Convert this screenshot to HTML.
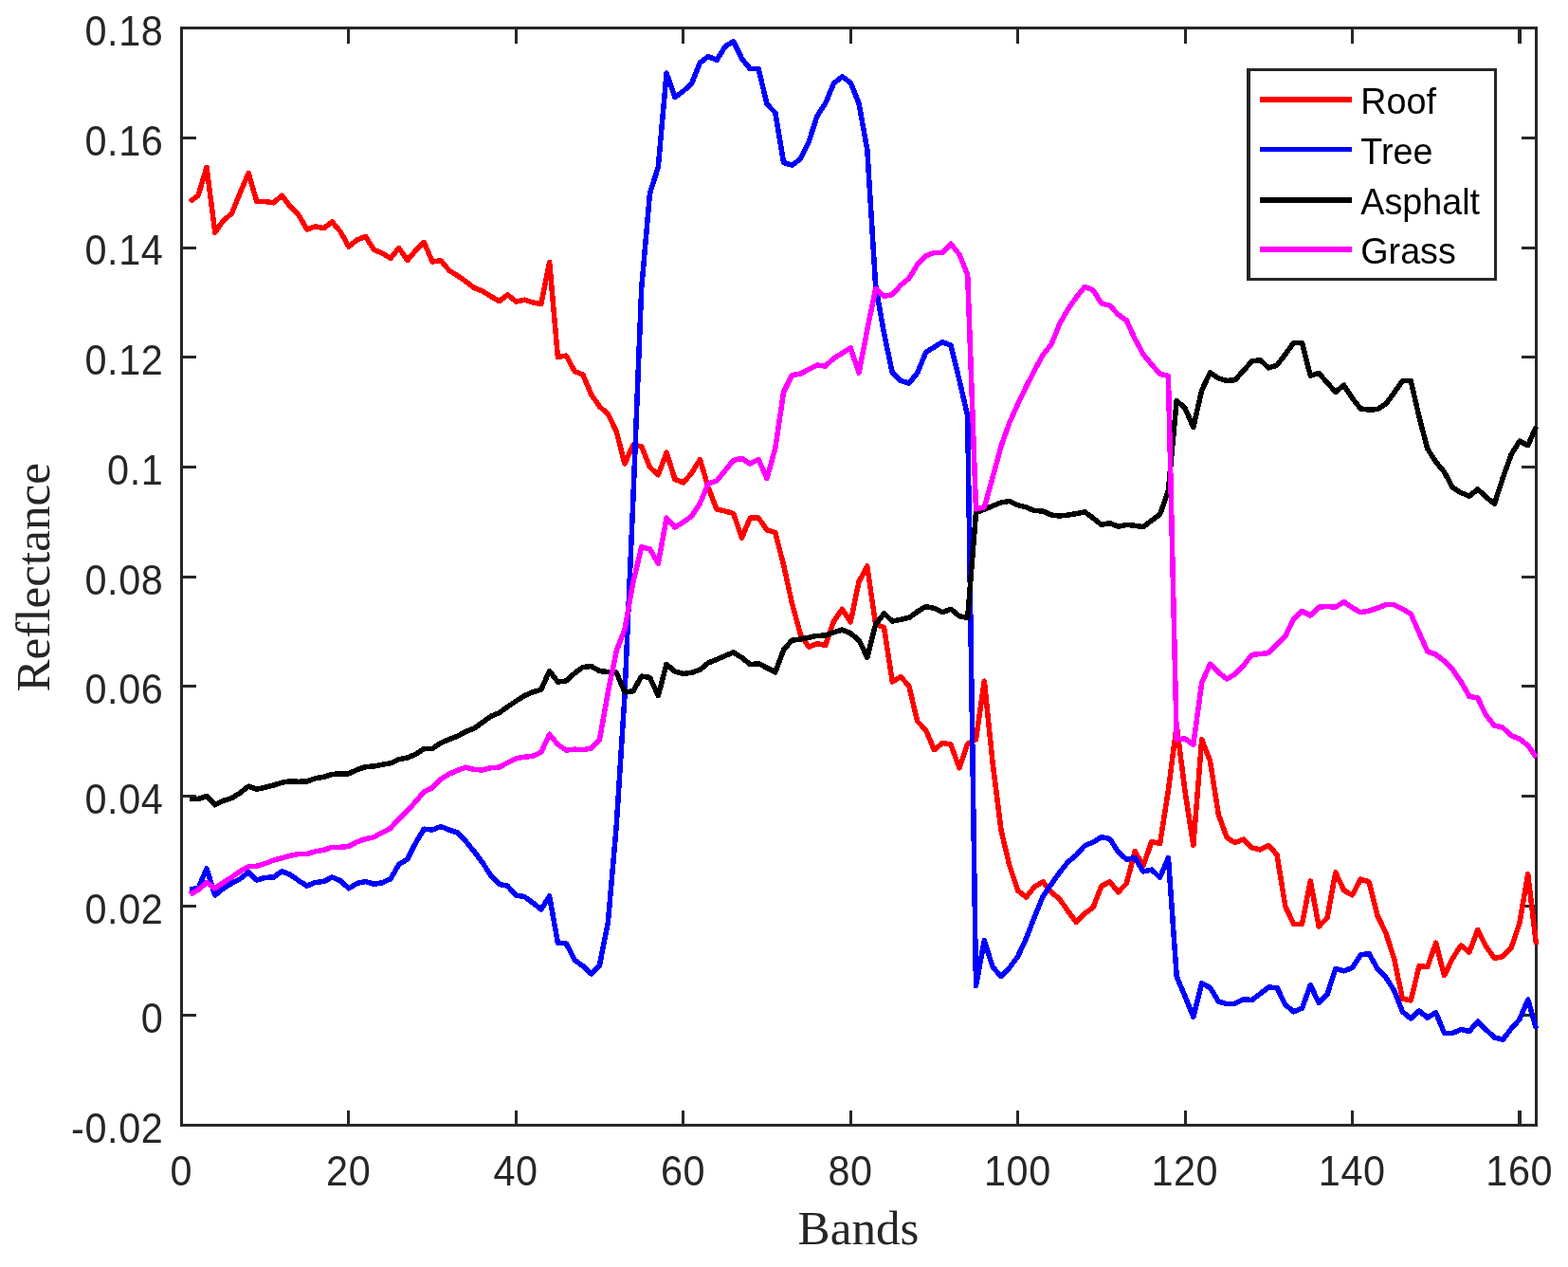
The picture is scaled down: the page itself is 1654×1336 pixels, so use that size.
<!DOCTYPE html>
<html lang="en">
<head>
<meta charset="utf-8">
<title>Reflectance vs Bands</title>
<style>
html,body{margin:0;padding:0;background:#fff;}
body{width:1654px;height:1336px;overflow:hidden;}
svg{display:block;}
.ax{fill:#262626;shape-rendering:crispEdges;}
.tick{font-family:"Liberation Sans",Arial,Helvetica,sans-serif;font-size:41.4px;letter-spacing:0.6px;fill:#262626;}
.leg{font-family:"Liberation Sans",Arial,Helvetica,sans-serif;font-size:37.7px;fill:#000;}
.lab{font-family:"Liberation Serif","Times New Roman",Times,serif;font-size:51.2px;fill:#262626;}
.c{fill:none;stroke-width:5.5;stroke-linejoin:round;stroke-linecap:butt;shape-rendering:crispEdges;}
.ls{shape-rendering:crispEdges;}
</style>
</head>
<body>
<svg width="1654" height="1336" viewBox="0 0 1654 1336">
<rect x="0" y="0" width="1654" height="1336" fill="#ffffff"/>
<g class="ax">
<rect x="190" y="28" width="1432" height="3"/>
<rect x="190" y="1185" width="1432" height="3"/>
<rect x="190" y="28" width="3" height="1160"/>
<rect x="1619" y="28" width="3" height="1160"/>
<rect x="366" y="1171" width="3" height="15"/><rect x="366" y="30" width="3" height="16"/>
<rect x="543" y="1171" width="3" height="15"/><rect x="543" y="30" width="3" height="16"/>
<rect x="719" y="1171" width="3" height="15"/><rect x="719" y="30" width="3" height="16"/>
<rect x="896" y="1171" width="3" height="15"/><rect x="896" y="30" width="3" height="16"/>
<rect x="1072" y="1171" width="3" height="15"/><rect x="1072" y="30" width="3" height="16"/>
<rect x="1249" y="1171" width="3" height="15"/><rect x="1249" y="30" width="3" height="16"/>
<rect x="1425" y="1171" width="3" height="15"/><rect x="1425" y="30" width="3" height="16"/>
<rect x="1601" y="1171" width="4" height="15"/><rect x="1601" y="30" width="4" height="16"/>
<rect x="192" y="144" width="15" height="3"/><rect x="1605" y="144" width="15" height="3"/>
<rect x="192" y="260" width="15" height="3"/><rect x="1605" y="260" width="15" height="3"/>
<rect x="192" y="375" width="15" height="3"/><rect x="1605" y="375" width="15" height="3"/>
<rect x="192" y="491" width="15" height="3"/><rect x="1605" y="491" width="15" height="3"/>
<rect x="192" y="607" width="15" height="3"/><rect x="1605" y="607" width="15" height="3"/>
<rect x="192" y="722" width="15" height="3"/><rect x="1605" y="722" width="15" height="3"/>
<rect x="192" y="838" width="15" height="3"/><rect x="1605" y="838" width="15" height="3"/>
<rect x="192" y="954" width="15" height="3"/><rect x="1605" y="954" width="15" height="3"/>
<rect x="192" y="1069" width="15" height="3"/><rect x="1605" y="1069" width="15" height="3"/>
</g>
<path class="c" stroke="#ff0000" d="M200.3 212.6 L209.1 206.2 L218.0 176.3 L226.8 245.2 L235.6 232.5 L244.4 225.2 L253.2 203.5 L262.1 182.6 L270.9 212.6 L279.7 212.6 L288.5 213.8 L297.4 206.2 L306.2 218.0 L315.0 226.7 L323.8 241.9 L332.6 238.8 L341.5 240.7 L350.3 233.9 L359.1 244.3 L367.9 260.1 L376.7 252.8 L385.6 249.4 L394.4 263.3 L403.2 267.0 L412.0 272.4 L420.8 261.5 L429.7 274.6 L438.5 264.2 L447.3 255.5 L456.1 276.0 L465.0 274.8 L473.8 285.1 L482.6 290.8 L491.4 296.8 L500.2 303.5 L509.1 307.1 L517.9 312.6 L526.7 317.6 L535.5 310.8 L544.3 318.0 L553.2 316.2 L562.0 318.9 L570.8 320.7 L579.6 276.3 L588.4 376.4 L597.3 375.1 L606.1 391.5 L614.9 395.1 L623.7 416.0 L632.5 428.7 L641.4 436.8 L650.2 455.0 L659.0 489.0 L667.8 469.0 L676.7 470.8 L685.5 492.6 L694.3 500.8 L703.1 477.2 L711.9 505.3 L720.8 508.9 L729.6 498.9 L738.4 484.4 L747.2 514.4 L756.0 537.0 L764.9 538.9 L773.7 541.6 L782.5 567.0 L791.3 546.1 L800.1 546.1 L809.0 558.8 L817.8 561.5 L826.6 596.0 L835.4 635.9 L844.3 668.6 L853.1 682.2 L861.9 678.6 L870.7 680.4 L879.5 655.0 L888.4 642.3 L897.2 655.9 L906.0 613.3 L914.8 597.0 L923.6 658.6 L932.5 661.4 L941.3 719.0 L950.1 713.6 L958.9 723.6 L967.7 760.7 L976.6 769.8 L985.4 790.7 L994.2 783.4 L1003.0 785.2 L1011.9 809.7 L1020.7 784.3 L1029.5 779.8 L1038.3 718.1 L1047.1 804.3 L1056.0 875.4 L1064.8 912.6 L1073.6 938.9 L1082.4 946.1 L1091.2 935.3 L1100.1 929.8 L1108.9 940.7 L1117.7 948.0 L1126.5 960.7 L1135.3 972.5 L1144.2 963.4 L1153.0 957.0 L1161.8 934.4 L1170.6 929.8 L1179.5 940.7 L1188.3 931.6 L1197.1 897.7 L1205.9 913.1 L1214.7 887.7 L1223.6 889.5 L1232.4 833.3 L1241.2 764.5 L1250.0 834.2 L1258.8 891.3 L1267.7 779.8 L1276.5 802.5 L1285.3 858.7 L1294.1 883.2 L1302.9 888.6 L1311.8 885.0 L1320.6 894.0 L1329.4 895.9 L1338.2 891.3 L1347.0 901.3 L1355.9 956.1 L1364.7 974.3 L1373.5 974.3 L1382.3 928.9 L1391.2 977.0 L1400.0 967.9 L1408.8 919.9 L1417.6 938.9 L1426.4 943.8 L1435.3 927.1 L1444.1 929.8 L1452.9 965.2 L1461.7 983.3 L1470.5 1010.5 L1479.4 1053.2 L1488.2 1055.0 L1497.0 1018.7 L1505.8 1019.6 L1514.6 994.2 L1523.5 1028.7 L1532.3 1010.5 L1541.1 996.9 L1549.9 1004.2 L1558.8 980.6 L1567.6 997.9 L1576.4 1010.5 L1585.2 1008.7 L1594.0 999.7 L1602.9 973.4 L1611.7 921.7 L1620.5 996.0"/>
<path class="c" stroke="#0000ff" d="M200.3 937.7 L209.1 936.8 L218.0 915.9 L226.8 944.0 L235.6 936.8 L244.4 931.4 L253.2 926.8 L262.1 919.6 L270.9 928.1 L279.7 925.4 L288.5 925.0 L297.4 918.7 L306.2 922.3 L315.0 928.6 L323.8 934.1 L332.6 930.5 L341.5 929.5 L350.3 925.0 L359.1 928.6 L367.9 936.8 L376.7 931.4 L385.6 929.5 L394.4 932.3 L403.2 930.8 L412.0 926.8 L420.8 911.4 L429.7 906.0 L438.5 888.7 L447.3 874.2 L456.1 875.1 L465.0 871.5 L473.8 875.1 L482.6 878.0 L491.4 887.1 L500.2 898.0 L509.1 909.8 L517.9 923.4 L526.7 932.5 L535.5 934.3 L544.3 944.2 L553.2 945.5 L562.0 952.0 L570.8 958.8 L579.6 945.1 L588.4 994.1 L597.3 995.0 L606.1 1012.3 L614.9 1018.6 L623.7 1026.8 L632.5 1017.7 L641.4 972.4 L650.2 871.1 L659.0 733.0 L667.8 528.0 L676.7 304.0 L685.5 204.0 L694.3 176.0 L703.1 77.1 L711.9 102.5 L720.8 96.2 L729.6 88.0 L738.4 66.2 L747.2 59.5 L756.0 63.5 L764.9 49.0 L773.7 43.6 L782.5 61.7 L791.3 72.6 L800.1 72.6 L809.0 109.8 L817.8 118.8 L826.6 171.4 L835.4 174.2 L844.3 167.8 L853.1 149.7 L861.9 122.5 L870.7 108.9 L879.5 88.0 L888.4 80.8 L897.2 87.1 L906.0 108.9 L914.8 157.8 L923.6 300.7 L932.5 351.5 L941.3 393.2 L950.1 401.4 L958.9 404.1 L967.7 393.2 L976.6 371.5 L985.4 366.0 L994.2 360.6 L1003.0 364.2 L1011.9 400.5 L1020.7 438.6 L1029.5 1039.6 L1038.3 991.5 L1047.1 1019.6 L1056.0 1029.6 L1064.8 1020.5 L1073.6 1008.7 L1082.4 989.7 L1091.2 967.0 L1100.1 945.2 L1108.9 932.5 L1117.7 919.9 L1126.5 909.0 L1135.3 901.7 L1144.2 891.7 L1153.0 888.1 L1161.8 882.7 L1170.6 884.5 L1179.5 898.1 L1188.3 906.2 L1197.1 904.4 L1205.9 919.0 L1214.7 917.1 L1223.6 925.3 L1232.4 904.4 L1241.2 1029.7 L1250.0 1050.5 L1258.8 1072.3 L1267.7 1036.9 L1276.5 1041.5 L1285.3 1056.0 L1294.1 1058.7 L1302.9 1058.2 L1311.8 1053.8 L1320.6 1054.5 L1329.4 1047.8 L1338.2 1041.1 L1347.0 1041.5 L1355.9 1059.6 L1364.7 1066.8 L1373.5 1063.1 L1382.3 1038.7 L1391.2 1057.7 L1400.0 1048.6 L1408.8 1021.4 L1417.6 1023.8 L1426.4 1020.5 L1435.3 1006.9 L1444.1 1005.6 L1452.9 1021.4 L1461.7 1030.5 L1470.5 1044.1 L1479.4 1066.8 L1488.2 1074.0 L1497.0 1065.9 L1505.8 1073.1 L1514.6 1067.7 L1523.5 1089.4 L1532.3 1089.4 L1541.1 1085.5 L1549.9 1087.6 L1558.8 1077.1 L1567.6 1085.8 L1576.4 1094.0 L1585.2 1096.3 L1594.0 1084.9 L1602.9 1074.9 L1611.7 1054.1 L1620.5 1084.9"/>
<path class="c" stroke="#000000" d="M200.3 842.5 L209.1 842.5 L218.0 839.4 L226.8 848.8 L235.6 844.3 L244.4 841.6 L253.2 836.1 L262.1 829.2 L270.9 832.1 L279.7 830.3 L288.5 828.0 L297.4 825.2 L306.2 823.8 L315.0 824.3 L323.8 824.0 L332.6 820.7 L341.5 819.3 L350.3 816.5 L359.1 815.8 L367.9 815.8 L376.7 811.6 L385.6 808.6 L394.4 808.0 L403.2 806.2 L412.0 804.8 L420.8 800.8 L429.7 799.0 L438.5 795.3 L447.3 789.5 L456.1 789.5 L465.0 783.3 L473.8 779.7 L482.6 776.1 L491.4 771.5 L500.2 767.9 L509.1 761.6 L517.9 755.2 L526.7 751.6 L535.5 745.2 L544.3 739.3 L553.2 733.5 L562.0 729.8 L570.8 727.1 L579.6 707.5 L588.4 719.0 L597.3 718.0 L606.1 709.9 L614.9 703.5 L623.7 702.6 L632.5 707.5 L641.4 708.6 L650.2 709.0 L659.0 729.8 L667.8 728.9 L676.7 713.1 L685.5 714.4 L694.3 733.5 L703.1 700.3 L711.9 708.1 L720.8 710.4 L729.6 709.3 L738.4 706.2 L747.2 699.0 L756.0 695.4 L764.9 691.5 L773.7 687.9 L782.5 693.4 L791.3 700.6 L800.1 699.7 L809.0 704.2 L817.8 708.8 L826.6 685.2 L835.4 675.2 L844.3 674.0 L853.1 672.2 L861.9 670.4 L870.7 670.1 L879.5 666.8 L888.4 664.1 L897.2 667.7 L906.0 675.0 L914.8 693.1 L923.6 658.6 L932.5 646.8 L941.3 655.0 L950.1 653.2 L958.9 651.4 L967.7 645.0 L976.6 639.6 L985.4 641.4 L994.2 645.6 L1003.0 642.3 L1011.9 649.6 L1020.7 651.4 L1029.5 540.7 L1038.3 537.1 L1047.1 533.5 L1056.0 529.9 L1064.8 528.4 L1073.6 532.6 L1082.4 534.9 L1091.2 538.6 L1100.1 538.9 L1108.9 543.1 L1117.7 544.0 L1126.5 543.1 L1135.3 541.6 L1144.2 539.8 L1153.0 546.2 L1161.8 553.4 L1170.6 551.6 L1179.5 555.2 L1188.3 553.4 L1197.1 554.3 L1205.9 555.6 L1214.7 548.9 L1223.6 542.5 L1232.4 517.2 L1241.2 422.4 L1250.0 430.5 L1258.8 450.5 L1267.7 411.5 L1276.5 393.0 L1285.3 398.8 L1294.1 401.5 L1302.9 400.6 L1311.8 390.6 L1320.6 381.0 L1329.4 379.7 L1338.2 387.9 L1347.0 385.2 L1355.9 373.5 L1364.7 361.4 L1373.5 361.7 L1382.3 396.2 L1391.2 393.5 L1400.0 403.5 L1408.8 413.4 L1417.6 406.2 L1426.4 419.8 L1435.3 431.0 L1444.1 432.1 L1452.9 431.6 L1461.7 426.1 L1470.5 414.3 L1479.4 401.6 L1488.2 401.6 L1497.0 439.7 L1505.8 473.3 L1514.6 486.9 L1523.5 497.8 L1532.3 514.1 L1541.1 519.5 L1549.9 523.2 L1558.8 515.9 L1567.6 524.1 L1576.4 531.3 L1585.2 504.1 L1594.0 479.6 L1602.9 465.1 L1611.7 469.7 L1620.5 449.7"/>
<path class="c" stroke="#ff00ff" d="M200.3 943.1 L209.1 938.6 L218.0 930.5 L226.8 936.8 L235.6 930.5 L244.4 925.0 L253.2 918.7 L262.1 913.8 L270.9 913.2 L279.7 910.5 L288.5 907.2 L297.4 904.7 L306.2 902.3 L315.0 900.5 L323.8 900.5 L332.6 897.8 L341.5 896.4 L350.3 893.3 L359.1 893.3 L367.9 892.4 L376.7 887.8 L385.6 884.6 L394.4 882.7 L403.2 877.9 L412.0 873.3 L420.8 863.3 L429.7 855.2 L438.5 845.2 L447.3 834.9 L456.1 830.7 L465.0 821.6 L473.8 816.2 L482.6 812.4 L491.4 809.1 L500.2 811.5 L509.1 812.0 L517.9 809.6 L526.7 809.1 L535.5 804.2 L544.3 799.7 L553.2 798.2 L562.0 797.3 L570.8 793.3 L579.6 774.3 L588.4 785.1 L597.3 791.0 L606.1 790.2 L614.9 790.6 L623.7 789.1 L632.5 779.7 L641.4 729.8 L650.2 686.3 L659.0 663.6 L667.8 614.1 L676.7 576.9 L685.5 578.8 L694.3 594.2 L703.1 546.1 L711.9 556.1 L720.8 550.6 L729.6 544.3 L738.4 530.7 L747.2 509.8 L756.0 507.1 L764.9 496.2 L773.7 485.3 L782.5 483.5 L791.3 489.0 L800.1 484.4 L809.0 504.4 L817.8 472.6 L826.6 413.4 L835.4 395.6 L844.3 394.1 L853.1 389.6 L861.9 385.1 L870.7 386.0 L879.5 377.8 L888.4 372.4 L897.2 366.9 L906.0 393.2 L914.8 347.9 L923.6 304.4 L932.5 312.5 L941.3 310.7 L950.1 300.7 L958.9 293.5 L967.7 279.0 L976.6 269.9 L985.4 266.3 L994.2 266.3 L1003.0 257.2 L1011.9 268.1 L1020.7 289.9 L1029.5 536.8 L1038.3 535.0 L1047.1 503.5 L1056.0 470.5 L1064.8 445.8 L1073.6 426.2 L1082.4 407.8 L1091.2 390.5 L1100.1 374.3 L1108.9 363.4 L1117.7 341.6 L1126.5 326.2 L1135.3 313.5 L1144.2 302.3 L1153.0 305.9 L1161.8 319.9 L1170.6 322.2 L1179.5 331.7 L1188.3 338.0 L1197.1 357.1 L1205.9 373.4 L1214.7 384.3 L1223.6 394.2 L1232.4 396.4 L1241.2 779.8 L1250.0 778.9 L1258.8 785.2 L1267.7 719.9 L1276.5 700.2 L1285.3 708.9 L1294.1 715.9 L1302.9 711.0 L1311.8 701.6 L1320.6 690.4 L1329.4 689.5 L1338.2 688.6 L1347.0 679.5 L1355.9 670.7 L1364.7 652.6 L1373.5 644.4 L1382.3 649.0 L1391.2 640.3 L1400.0 639.5 L1408.8 640.3 L1417.6 634.5 L1426.4 640.8 L1435.3 645.7 L1444.1 644.1 L1452.9 641.2 L1461.7 637.7 L1470.5 637.7 L1479.4 642.1 L1488.2 647.5 L1497.0 667.1 L1505.8 687.1 L1514.6 690.1 L1523.5 697.0 L1532.3 706.1 L1541.1 718.8 L1549.9 734.2 L1558.8 736.0 L1567.6 754.2 L1576.4 765.0 L1585.2 767.2 L1594.0 775.6 L1602.9 779.2 L1611.7 785.9 L1620.5 798.6"/>
<text class="tick" transform="translate(191.3,1249.5) scale(1,1.071)" text-anchor="middle">0</text>
<text class="tick" transform="translate(367.7,1249.5) scale(1,1.071)" text-anchor="middle">20</text>
<text class="tick" transform="translate(544.1,1249.5) scale(1,1.071)" text-anchor="middle">40</text>
<text class="tick" transform="translate(720.6,1249.5) scale(1,1.071)" text-anchor="middle">60</text>
<text class="tick" transform="translate(897.0,1249.5) scale(1,1.071)" text-anchor="middle">80</text>
<text class="tick" transform="translate(1073.4,1249.5) scale(1,1.071)" text-anchor="middle">100</text>
<text class="tick" transform="translate(1249.8,1249.5) scale(1,1.071)" text-anchor="middle">120</text>
<text class="tick" transform="translate(1426.2,1249.5) scale(1,1.071)" text-anchor="middle">140</text>
<text class="tick" transform="translate(1602.7,1249.5) scale(1,1.071)" text-anchor="middle">160</text>
<text class="tick" transform="translate(172.4,48.0) scale(1,1.071)" text-anchor="end">0.18</text>
<text class="tick" transform="translate(172.4,163.8) scale(1,1.071)" text-anchor="end">0.16</text>
<text class="tick" transform="translate(172.4,279.4) scale(1,1.071)" text-anchor="end">0.14</text>
<text class="tick" transform="translate(172.4,395.1) scale(1,1.071)" text-anchor="end">0.12</text>
<text class="tick" transform="translate(172.4,510.8) scale(1,1.071)" text-anchor="end">0.1</text>
<text class="tick" transform="translate(172.4,626.5) scale(1,1.071)" text-anchor="end">0.08</text>
<text class="tick" transform="translate(172.4,742.2) scale(1,1.071)" text-anchor="end">0.06</text>
<text class="tick" transform="translate(172.4,857.9) scale(1,1.071)" text-anchor="end">0.04</text>
<text class="tick" transform="translate(172.4,973.6) scale(1,1.071)" text-anchor="end">0.02</text>
<text class="tick" transform="translate(172.4,1089.4) scale(1,1.071)" text-anchor="end">0</text>
<text class="tick" transform="translate(172.4,1205.1) scale(1,1.071)" text-anchor="end">-0.02</text>
<text class="lab" x="905.5" y="1311.9" text-anchor="middle">Bands</text>
<text class="lab" transform="translate(52.4,608.8) rotate(-90)" text-anchor="middle">Reflectance</text>
<rect x="1315" y="72" width="264" height="224" fill="#ffffff"/>
<g class="ax"><rect x="1315" y="72" width="264" height="3"/><rect x="1315" y="293" width="264" height="3"/><rect x="1315" y="72" width="4" height="224"/><rect x="1576" y="72" width="3" height="224"/></g>
<rect class="ls" x="1329" y="102" width="97" height="6" fill="#ff0000"/><text class="leg" transform="translate(1435.3,120.0) scale(1,1.050)">Roof</text>
<rect class="ls" x="1329" y="155" width="97" height="5" fill="#0000ff"/><text class="leg" transform="translate(1435.3,172.9) scale(1,1.050)">Tree</text>
<rect class="ls" x="1329" y="208" width="97" height="6" fill="#000000"/><text class="leg" transform="translate(1435.3,225.7) scale(1,1.050)">Asphalt</text>
<rect class="ls" x="1329" y="260" width="97" height="6" fill="#ff00ff"/><text class="leg" transform="translate(1435.3,278.4) scale(1,1.050)">Grass</text>
</svg>
</body>
</html>
